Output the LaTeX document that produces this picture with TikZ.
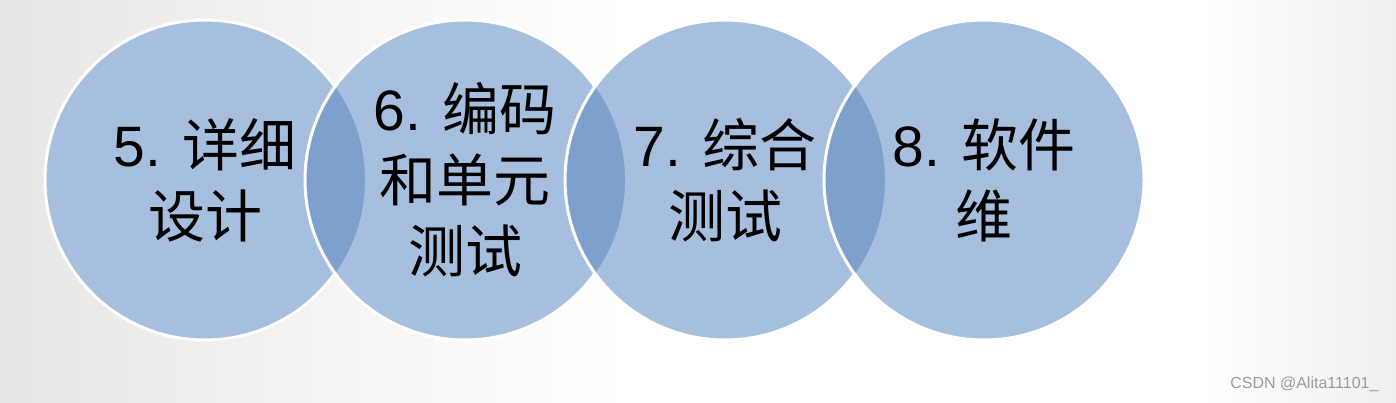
\documentclass[tikz,border=0pt]{standalone}
\usepackage{fontspec}
\setmainfont{Liberation Sans}
\newfontfamily\cjk{Noto Sans CJK SC}
\definecolor{circfill}{HTML}{A7BFDE}
\definecolor{lensfill}{HTML}{7DA0CC}
\definecolor{bgleft}{HTML}{E6E6E6}
\definecolor{bgmid}{HTML}{F7F7F7}
\definecolor{bgright}{HTML}{EFEFEF}
\definecolor{wmgray}{HTML}{9A9A9A}
\pgfdeclarehorizontalshading{bgshade}{100bp}{color(0bp)=(bgleft); color(25bp)=(bgleft); color(39bp)=(bgmid); color(47.5bp)=(white); color(68bp)=(white); color(75bp)=(bgright); color(100bp)=(bgright)}
\tikzset{
  bubble/.style={fill=circfill},
  rim/.style={draw=white, line width=3pt},
  lens/.style={fill=lensfill},
  bubbletext/.style={align=center, text=black, font=\fontsize{57}{71}\selectfont},
  wmtext/.style={text=wmgray, font=\fontsize{16}{18}\selectfont}
}
\begin{document}
\begin{tikzpicture}[x=1pt,y=-1pt]
\useasboundingbox (0pt,0pt) rectangle (1396pt,-403pt);
\shade[shading=bgshade] (0pt,0pt) rectangle (1396pt,-403pt);
\coordinate (c1) at (205,180);
\coordinate (c2) at (465,180);
\coordinate (c3) at (725,180);
\coordinate (c4) at (984,180);
% circle 1
\path[bubble] (c1) circle[radius=160pt];
\path[rim] (c1) circle[radius=160pt];
% circle 2
\path[bubble] (c2) circle[radius=160pt];
\begin{scope}
  \clip (c1) circle[radius=160pt];
  \path[lens] (c2) circle[radius=160pt];
\end{scope}
\path[rim] (c2) circle[radius=160pt];
% circle 3
\path[bubble] (c3) circle[radius=160pt];
\begin{scope}
  \clip (c2) circle[radius=160pt];
  \path[lens] (c3) circle[radius=160pt];
\end{scope}
\path[rim] (c3) circle[radius=160pt];
% circle 4
\path[bubble] (c4) circle[radius=160pt];
\begin{scope}
  \clip (c3) circle[radius=160pt];
  \path[lens] (c4) circle[radius=160pt];
\end{scope}
\path[rim] (c4) circle[radius=160pt];
% labels
\node[bubbletext] (t1) at (c1) {5. {\cjk 详细}\\{\cjk 设计}};
\node[bubbletext] (t2) at (c2) {6. {\cjk 编码}\\{\cjk 和单元}\\{\cjk 测试}};
\node[bubbletext] (t3) at (c3) {7. {\cjk 综合}\\{\cjk 测试}};
\node[bubbletext] (t4) at (c4) {8. {\cjk 软件}\\{\cjk 维}};
\node[wmtext, anchor=east] (wm) at (1382,384) {CSDN @Alita11101\_};
\end{tikzpicture}
\end{document}
